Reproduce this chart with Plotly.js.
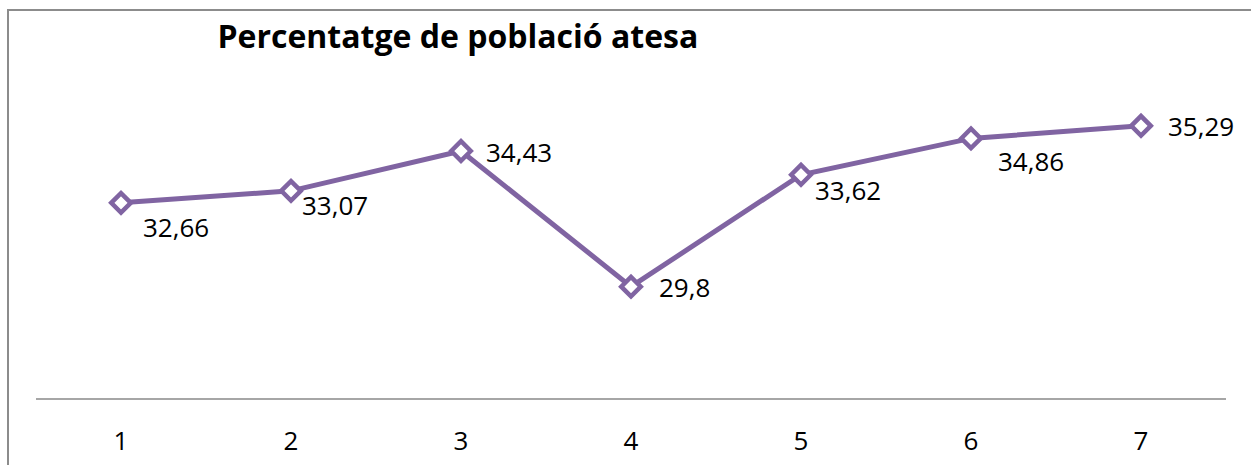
<!DOCTYPE html>
<html>
<head>
<meta charset="utf-8">
<script src="https://cdn.plot.ly/plotly-3.0.1.min.js"></script>
<style>
  html, body { margin: 0; padding: 0; background: #fff; }
  #wrap { position: relative; width: 1251px; height: 465px; overflow: hidden; }
  #chart { position: absolute; left: 0; top: 0; width: 1251px; height: 465px; }
  #frame { position: absolute; left: 7px; top: 9px; width: 1260px; height: 480px;
           border-left: 2px solid #8c8c8c; border-top: 2px solid #8c8c8c; pointer-events: none; }
</style>
</head>
<body>
<div id="wrap">
  <div id="chart"></div>
  <div id="frame"></div>
</div>
<script>
const categories = ["1", "2", "3", "4", "5", "6", "7"];
const values = [32.66, 33.07, 34.43, 29.8, 33.62, 34.86, 35.29];
const titleText = "Percentatge de població atesa";

// label offsets (px) relative to each point, for placement only
const labelShift = [[55, -24], [44, -14], [58, -1], [53, 0], [47, -15], [60, -23], [60, 0]];

const fmt = v => String(v).replace('.', ',');

const trace = {
  type: 'scatter',
  mode: 'lines+markers',
  x: categories,
  y: values,
  line: { color: '#8064A2', width: 5 },
  marker: { symbol: 'diamond', size: 15, color: '#ffffff', line: { color: '#8064A2', width: 4.5 } },
  hoverinfo: 'skip'
};

const annotations = categories.map((c, i) => ({
  x: i, y: values[i], xref: 'x', yref: 'y',
  text: fmt(values[i]), showarrow: false,
  xanchor: 'center', yanchor: 'middle',
  xshift: labelShift[i][0], yshift: labelShift[i][1],
  font: { family: 'Open Sans, Noto Sans, sans-serif', size: 26, color: '#000000' }
}));

const layout = {
  width: 1251, height: 465,
  margin: { l: 36, r: 25, t: 105, b: 67 },
  paper_bgcolor: '#ffffff', plot_bgcolor: '#ffffff',
  showlegend: false,
  title: {
    text: '<b>' + titleText + '</b>',
    x: 0.366, xanchor: 'center', xref: 'container',
    y: 0.92, yanchor: 'middle', yref: 'container',
    font: { family: 'Open Sans, Noto Sans, sans-serif', size: 32, color: '#000000' }
  },
  xaxis: {
    type: 'category', range: [-0.5, 6.5],
    showline: true, linecolor: '#a6a6a6', linewidth: 1.5,
    showgrid: false, zeroline: false, ticks: '',
    ticklabelstandoff: 19,
    tickfont: { family: 'Open Sans, Noto Sans, sans-serif', size: 26, color: '#000000' },
    fixedrange: true
  },
  yaxis: {
    range: [26, 36], showgrid: false, zeroline: false, showline: false,
    showticklabels: false, ticks: '', fixedrange: true
  },
  annotations: annotations
};

Plotly.newPlot('chart', [trace], layout, { displayModeBar: false, staticPlot: true });
</script>
</body>
</html>
